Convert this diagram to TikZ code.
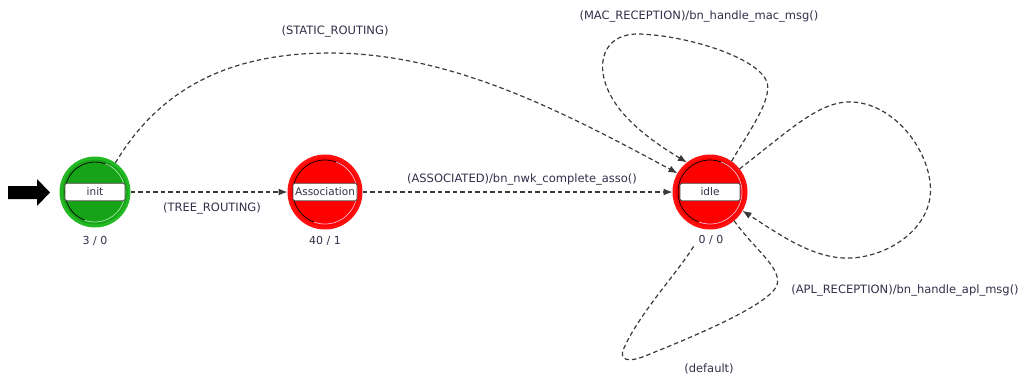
\documentclass[tikz,border=0pt]{standalone}
\usepackage{fontspec}
\setmainfont{DejaVu Sans}
\usetikzlibrary{arrows.meta}
\definecolor{txt}{HTML}{30304A}
\definecolor{grn}{HTML}{17A317}
\definecolor{grnring}{HTML}{24B824}
\definecolor{grnlight}{HTML}{A0E8A0}
\definecolor{rd}{HTML}{FF0000}
\definecolor{rdring}{HTML}{FF1010}
\definecolor{rdlight}{HTML}{F2B4D2}
\definecolor{edgec}{HTML}{3A3A3A}
\tikzset{
  state/.style={circle, minimum size=70pt, inner sep=0pt, line width=3pt},
  namebox/.style={draw=black!70, fill=white, rounded corners=1.5pt, minimum width=60pt,
    minimum height=17.5pt, inner sep=1pt, font=\fontsize{10.5}{12}\selectfont, text=txt, line width=0.8pt},
  count/.style={font=\fontsize{11}{13}\selectfont, text=txt},
  elabel/.style={font=\fontsize{11.5}{13}\selectfont, text=txt},
  dashline/.style={draw=edgec, line width=1.2pt, dash pattern=on 4.5pt off 3pt},
  trans/.style={dashline, -{Latex[length=9pt,width=7pt]}},
  shade1/.style={draw=black, line width=0.7pt},
}
\begin{document}
\begin{tikzpicture}[x=1pt,y=-1pt]
\useasboundingbox (0,0) rectangle (1019,376);

% states
\node[state, fill=grn, draw=grnring, minimum size=68pt] (init) at (95,192) {};
\node[state, fill=rd, draw=rdring, minimum size=72pt] (assoc) at (325,192) {};
\node[state, fill=rd, draw=rdring, minimum size=72pt] (idle) at (710,192) {};

% inner 3D rims
\draw[shade1] ([shift={(-60:30)}]init.center) arc[start angle=-60, end angle=-250, radius=30];
\draw[draw=grnlight, line width=0.7pt] ([shift={(-70:30)}]init.center) arc[start angle=-70, end angle=110, radius=30];
\draw[shade1] ([shift={(-60:32)}]assoc.center) arc[start angle=-60, end angle=-250, radius=32];
\draw[draw=rdlight, line width=0.7pt] ([shift={(-70:32)}]assoc.center) arc[start angle=-70, end angle=110, radius=32];
\draw[shade1] ([shift={(-60:32)}]idle.center) arc[start angle=-60, end angle=-250, radius=32];
\draw[draw=rdlight, line width=0.7pt] ([shift={(-70:32)}]idle.center) arc[start angle=-70, end angle=110, radius=32];

% name boxes
\node[namebox] (initbox) at (init.center) {init};
\node[namebox, minimum width=64pt] (assocbox) at (assoc.center) {Association};
\node[namebox] (idlebox) at (idle.center) {idle};

% counts
\node[count] (initc) at (95,241) {3 / 0};
\node[count] (assocc) at (325,241) {40 / 1};
\node[count] (idlec) at (711,240) {0 / 0};

% start arrow
\coordinate (startpt) at (8,192.5);
\fill[black] (startpt) ++(0,-6.5) -- (37,186) -- (37,179) -- (50,192.5) -- (37,206) -- (37,199) -- (8,199) -- cycle;

% transitions
\draw[trans] (init) -- (assoc);
\node[elabel] (lTree) at (212,208) {(TREE\_ROUTING)};

\draw[trans] (assoc) -- (idle);
\node[elabel] (lAssoc) at (522,179) {(ASSOCIATED)/bn\_nwk\_complete\_asso()};

\draw[trans] (init.55) .. controls (160,88) and (230,53) .. (330,53)
  .. controls (450,53) and (560,110) .. (idle.150);
\node[elabel] (lStatic) at (335,31) {(STATIC\_ROUTING)};

\draw[trans] (idle.55) .. controls (750,130) and (772,100) .. (767,82)
  .. controls (758,58) and (690,36) .. (640,34)
  .. controls (605,33) and (598,60) .. (605,82)
  .. controls (615,115) and (650,140) .. (idle.128);
\node[elabel] (lMac) at (699,16) {(MAC\_RECEPTION)/bn\_handle\_mac\_msg()};

\draw[trans] (idle.38) .. controls (790,130) and (820,100) .. (853,102)
  .. controls (900,105) and (935,160) .. (930,197)
  .. controls (925,235) and (880,260) .. (843,258)
  .. controls (810,256) and (780,235) .. (idle.-30);
\node[elabel] (lApl) at (905,290) {(APL\_RECEPTION)/bn\_handle\_apl\_msg()};

\coordinate (dfltend) at (695,244);
\draw[dashline] (idle.-50) .. controls (755,250) and (782,268) .. (777,285)
  .. controls (770,305) and (690,338) .. (645,356)
  .. controls (628,363) and (618,360) .. (624,348)
  .. controls (640,312) and (680,270) .. (dfltend);
\node[elabel] (lDefault) at (709,369) {(default)};
\end{tikzpicture}
\end{document}
